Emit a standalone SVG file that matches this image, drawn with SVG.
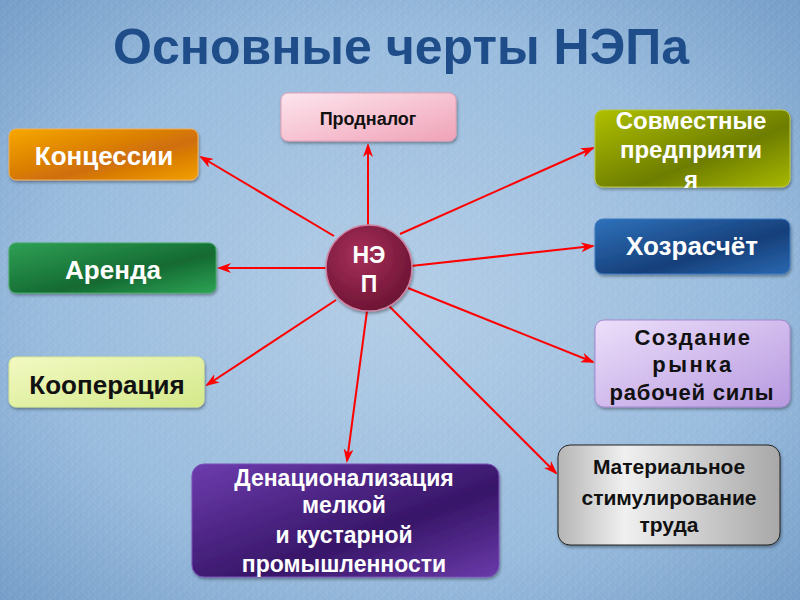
<svg xmlns="http://www.w3.org/2000/svg" width="800" height="600" viewBox="0 0 800 600">
<defs>
<radialGradient id="bg" cx="50%" cy="50%" r="75%">
<stop offset="0" stop-color="#b3cde6"/>
<stop offset="0.6" stop-color="#98bbdd"/>
<stop offset="1" stop-color="#6f98c4"/>
</radialGradient>
<pattern id="pat" width="8" height="8" patternUnits="userSpaceOnUse" patternTransform="rotate(45)">
<path d="M0,0 H8 M0,4 H4 V8" stroke="#ffffff" stroke-opacity="0.1" fill="none" stroke-width="1"/>
</pattern>
<linearGradient id="gPink" x1="0" y1="0" x2="1" y2="1"><stop offset="0" stop-color="#fde6ee"/><stop offset="1" stop-color="#f0a2b8"/></linearGradient>
<linearGradient id="gOrange" x1="0" y1="0" x2="1" y2="1"><stop offset="0" stop-color="#f7a800"/><stop offset="0.6" stop-color="#cf6e08"/><stop offset="1" stop-color="#f2a000"/></linearGradient>
<linearGradient id="gGreen" x1="0" y1="0" x2="1" y2="1"><stop offset="0" stop-color="#2fa055"/><stop offset="0.6" stop-color="#146a32"/><stop offset="1" stop-color="#2ea455"/></linearGradient>
<linearGradient id="gYellow" x1="0" y1="0" x2="1" y2="1"><stop offset="0" stop-color="#f2f9c2"/><stop offset="1" stop-color="#d4e98a"/></linearGradient>
<linearGradient id="gOlive" x1="0" y1="0" x2="1" y2="1"><stop offset="0" stop-color="#b0c000"/><stop offset="0.6" stop-color="#6d7d00"/><stop offset="1" stop-color="#a8b800"/></linearGradient>
<linearGradient id="gBlue" x1="0" y1="0" x2="1" y2="1"><stop offset="0" stop-color="#2f72bb"/><stop offset="0.6" stop-color="#163f7a"/><stop offset="1" stop-color="#2a68b0"/></linearGradient>
<linearGradient id="gLav" x1="0" y1="0" x2="1" y2="1"><stop offset="0" stop-color="#ecdffa"/><stop offset="1" stop-color="#b799e0"/></linearGradient>
<linearGradient id="gGray" x1="0" y1="0" x2="1" y2="0"><stop offset="0" stop-color="#b5b5b5"/><stop offset="0.3" stop-color="#f0f0f0"/><stop offset="1" stop-color="#a8a8a8"/></linearGradient>
<linearGradient id="gPurple" x1="0" y1="0" x2="1" y2="1"><stop offset="0" stop-color="#6d3cae"/><stop offset="0.6" stop-color="#371668"/><stop offset="1" stop-color="#6a3aaa"/></linearGradient>
<radialGradient id="gCirc" cx="40%" cy="35%" r="70%"><stop offset="0" stop-color="#a8305a"/><stop offset="1" stop-color="#6a1232"/></radialGradient>
<filter id="sh" x="-10%" y="-10%" width="120%" height="130%">
<feDropShadow dx="1" dy="2" stdDeviation="1.5" flood-color="#000" flood-opacity="0.35"/>
</filter>
<marker id="arr" markerWidth="14" markerHeight="10" refX="12" refY="5" orient="auto" markerUnits="userSpaceOnUse">
<path d="M0,0 L14,5 L0,10 L4,5 z" fill="#ff0000"/>
</marker>
<style>
.box{filter:url(#sh);stroke-width:1}
.t{font-family:"Liberation Sans",Arial,sans-serif;font-weight:bold;text-anchor:middle}
.w{fill:#ffffff}
.k{fill:#111111}
.c line{stroke:#ff0000;stroke-width:2;marker-end:url(#arr)}
</style>
</defs>
<rect width="800" height="600" fill="url(#bg)"/>
<rect width="800" height="600" fill="url(#pat)"/>
<text class="t" x="401" y="64" font-size="50" fill="#1f4d8a">Основные черты НЭПа</text>

<g id="connectors" class="c">
<line x1="368" y1="226" x2="368" y2="145"/>
<line x1="334" y1="236" x2="201" y2="157"/>
<line x1="327" y1="268" x2="219" y2="268"/>
<line x1="336" y1="300" x2="207" y2="385"/>
<line x1="400" y1="234" x2="593" y2="148"/>
<line x1="411" y1="266" x2="593" y2="246"/>
<line x1="408" y1="288" x2="593" y2="362"/>
<line x1="388" y1="305" x2="556" y2="473"/>
<line x1="367" y1="311" x2="347" y2="461"/>
</g>

<g id="prodnalog">
<rect class="box" x="281" y="93" width="175" height="48" rx="7" fill="url(#gPink)" stroke="#e8a0b4"/>
<text class="t k" x="368" y="125" font-size="18">Продналог</text>
</g>
<g id="koncessii">
<rect class="box" x="9" y="129" width="189" height="51" rx="7" fill="url(#gOrange)" stroke="#f0b060"/>
<text class="t w" x="104" y="165" font-size="26">Концессии</text>
</g>
<g id="arenda">
<rect class="box" x="9" y="243" width="207" height="50" rx="7" fill="url(#gGreen)" stroke="#40a860"/>
<text class="t w" x="113" y="279" font-size="26">Аренда</text>
</g>
<g id="kooperaciya">
<rect class="box" x="9" y="357" width="195" height="50" rx="7" fill="url(#gYellow)" stroke="#d8e890"/>
<text class="t k" x="107" y="394" font-size="26">Кооперация</text>
</g>
<g id="sovmestnye">
<rect class="box" x="595" y="110" width="195" height="77" rx="8" fill="url(#gOlive)" stroke="#b8c840"/>
<text class="t w" x="691" y="129" font-size="24">Совместные</text>
<text class="t w" x="691" y="158" font-size="24">предприяти</text>
<text class="t w" x="691" y="188" font-size="24">я</text>
</g>
<g id="hozraschet">
<rect class="box" x="595" y="219" width="195" height="55" rx="8" fill="url(#gBlue)" stroke="#3a78c0"/>
<text class="t w" x="692" y="255" font-size="26">Хозрасчёт</text>
</g>
<g id="sozdanie">
<rect class="box" x="595" y="320" width="195" height="87" rx="9" fill="url(#gLav)" stroke="#a888d0"/>
<text class="t k" x="693" y="345" font-size="22" letter-spacing="1.5">Создание</text>
<text class="t k" x="693" y="372" font-size="22" letter-spacing="2.5">рынка</text>
<text class="t k" x="692" y="400" font-size="22" letter-spacing="0.8">рабочей силы</text>
</g>
<g id="material">
<rect class="box" x="558" y="445" width="222" height="100" rx="12" fill="url(#gGray)" stroke="#222"/>
<text class="t k" x="669" y="474" font-size="21">Материальное</text>
<text class="t k" x="669" y="505" font-size="21">стимулирование</text>
<text class="t k" x="669" y="532" font-size="21">труда</text>
</g>
<g id="denac">
<rect class="box" x="192" y="464" width="307" height="113" rx="12" fill="url(#gPurple)" stroke="#7a50b8"/>
<text class="t w" x="344" y="486" font-size="23">Денационализация</text>
<text class="t w" x="344" y="513" font-size="23">мелкой</text>
<text class="t w" x="344" y="543" font-size="23">и кустарной</text>
<text class="t w" x="344" y="572" font-size="23">промышленности</text>
</g>
<g id="nep">
<circle cx="369" cy="268" r="43" fill="url(#gCirc)" stroke="#d080a0" stroke-width="1.5" filter="url(#sh)"/>
<text class="t w" x="369" y="263" font-size="23">НЭ</text>
<text class="t w" x="369" y="292" font-size="23">П</text>
</g>
</svg>
